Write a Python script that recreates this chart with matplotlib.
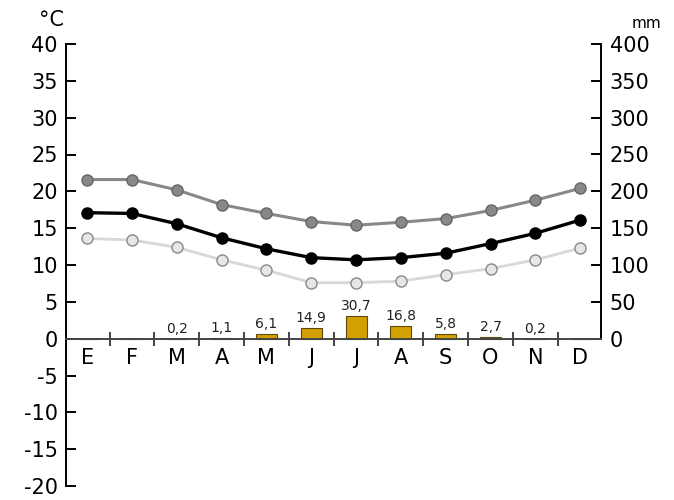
import matplotlib.pyplot as plt
import numpy as np

months = ['E', 'F', 'M', 'A', 'M', 'J', 'J', 'A', 'S', 'O', 'N', 'D']
t_max = [21.6, 21.6, 20.2, 18.2, 17.0, 15.9, 15.4, 15.8, 16.3, 17.4, 18.8, 20.4]
t_mean = [17.1, 17.0, 15.6, 13.7, 12.2, 11.0, 10.7, 11.0, 11.6, 12.9, 14.3, 16.1]
t_min = [13.6, 13.4, 12.4, 10.7, 9.3, 7.6, 7.6, 7.8, 8.7, 9.5, 10.7, 12.3]
precip = [0, 0, 0.2, 1.1, 6.1, 14.9, 30.7, 16.8, 5.8, 2.7, 0.2, 0]
precip_labels = ['', '', '0,2', '1,1', '6,1', '14,9', '30,7', '16,8', '5,8', '2,7', '0,2', '']

plt.rcParams['font.family'] = 'DejaVu Sans'
plt.rcParams['axes.unicode_minus'] = False

fig = plt.figure(figsize=(6.74, 5), dpi=100)
ax = fig.add_axes([0.098, 0.028, 0.794, 0.884])
x = np.arange(len(months))

ax.set_xlim(-0.47, 11.47)
ax.set_ylim(-20, 40)

ax2 = ax.twinx()
ax2.set_ylim(-200, 400)

# precipitation bars on the mm axis
ax2.bar(x, precip, width=0.47, color='#d4a000', edgecolor='#5a4a10', linewidth=0.8, zorder=2)
for xi, p, lab in zip(x, precip, precip_labels):
    if lab:
        ax2.text(xi, p + 4, lab, ha='center', va='bottom', fontsize=10, color='#222222')

# temperatures
ax.plot(x, t_max, color='#888888', lw=2.2, marker='o', ms=8,
        mfc='#888888', mec='#666666', mew=1, zorder=5)
ax.plot(x, t_mean, color='black', lw=2.4, marker='o', ms=8,
        mfc='black', mec='black', zorder=5)
ax.plot(x, t_min, color='#d8d8d8', lw=2, marker='o', ms=8,
        mfc='#e6e6e6', mec='#888888', mew=1, zorder=5)
ax.set_zorder(ax2.get_zorder() + 1)
ax.patch.set_visible(False)

for a in (ax, ax2):
    a.spines['top'].set_visible(False)

ax.spines['right'].set_visible(False)
ax.spines['left'].set_linewidth(1.4)
ax.spines['bottom'].set_position(('data', 0))
ax.spines['bottom'].set_linewidth(1.4)
ax.spines['bottom'].set_color('#444444')

ax.set_yticks(np.arange(-20, 41, 5))
ax.tick_params(axis='y', direction='in', length=7, width=1.4, pad=6, labelsize=15, colors='black')

ax.set_xticks(np.arange(0.5, 11, 1))
ax.set_xticklabels([])
ax.tick_params(axis='x', which='major', direction='inout', length=10, width=1.4, color='#444444')
ax.set_xticks(x, minor=True)
ax.set_xticklabels(months, minor=True)
ax.tick_params(axis='x', which='minor', length=0, pad=7, labelsize=15)

ax2.spines['left'].set_visible(False)
ax2.spines['bottom'].set_visible(False)
ax2.spines['right'].set_bounds(0, 400)
ax2.spines['right'].set_linewidth(1.4)
ax2.set_yticks(np.arange(0, 401, 50))
ax2.tick_params(axis='y', direction='in', length=7, width=1.4, pad=6, labelsize=15)

fig.text(0.077, 0.96, '°C', fontsize=15, ha='center', va='center')
fig.text(0.959, 0.952, 'mm', fontsize=11, ha='center', va='center')

fig.savefig('out.png', dpi=100)
